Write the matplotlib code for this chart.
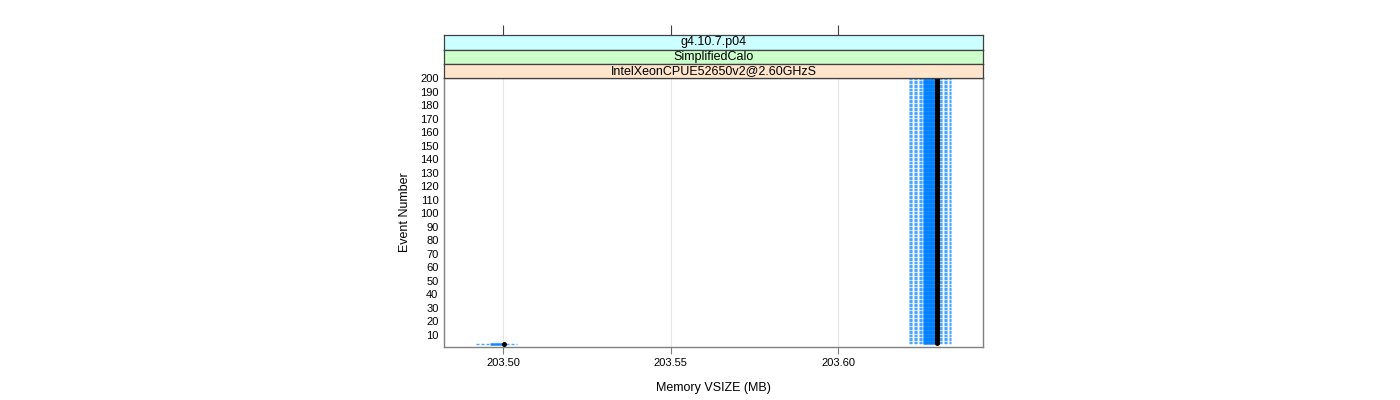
import matplotlib
matplotlib.use("Agg")
import matplotlib.pyplot as plt
import numpy as np

plt.rcParams['font.family'] = ['Liberation Sans', 'DejaVu Sans']

# ---- data ----
strip_labels = ["g4.10.7.p04", "SimplifiedCalo", "IntelXeonCPUE52650v2@2.60GHzS"]
strip_colors = ["#ccffff", "#ccffcc", "#ffe5cc"]

# groups of events sharing the same memory summary
group_first_event = [3, 4]
group_last_event = [3, 200]
group_lo = [203.49194, 203.62119]
group_q1 = [203.49612, 203.62537]
group_med = [203.50021, 203.62940]
group_q3 = [203.50000, 203.62900]
group_hi = [203.50409, 203.63373]

x_ticks = [203.50, 203.55, 203.60]
x_tick_labels = ["203.50", "203.55", "203.60"]
y_ticks = list(range(10, 201, 10))
xlim = (203.48239, 203.64328)
ylim = (1, 200)

W, H = 1400, 400
fig = plt.figure(figsize=(14, 4), dpi=100)

def fx(px):
    return px / W

def fy(py):
    return 1 - py / H

pl, pr, pt, pb = 444, 983, 78, 347
ax = fig.add_axes([fx(pl), fy(pb), fx(pr - pl), fy(pt) - fy(pb)])
ax.set_xlim(*xlim)
ax.set_ylim(*ylim)

for x in x_ticks:
    ax.axvline(x, color="#e6e6e6", lw=0.8, zorder=0)

for i in range(len(group_first_event)):
    ev = np.arange(group_first_event[i], group_last_event[i] + 1)
    n = len(ev)
    ax.hlines(ev, [group_lo[i]] * n, [group_hi[i]] * n, colors="#4da6ff",
              lw=1.0, linestyles=(0, (2.2, 1.4)), zorder=2)
    ax.hlines(ev, [group_q1[i]] * n, [group_q3[i]] * n, colors="#0080ff",
              lw=1.8, alpha=0.9, zorder=3)
    ax.plot([group_med[i]] * n, ev, 'o', color="black", ms=3.6, mew=0, zorder=4)

for s in ax.spines.values():
    s.set_color("#808080")
    s.set_linewidth(1.0)

ax.set_xticks(x_ticks)
ax.set_xticklabels(x_tick_labels, fontsize=8)
ax.set_yticks(y_ticks)
ax.set_yticklabels([str(v) for v in y_ticks], fontsize=8)
ax.tick_params(axis='x', length=5, color="#808080", pad=3)
ax.tick_params(axis='y', length=0, pad=4)
ax.set_xlabel("Memory VSIZE (MB)", fontsize=9, labelpad=10)
ax.set_ylabel("Event Number", fontsize=9, labelpad=6)

# strips (top -> bottom)
strip_edges = [35, 49.5, 64, 78]
for k in range(3):
    top, bot = strip_edges[k], strip_edges[k + 1]
    sax = fig.add_axes([fx(pl), fy(bot), fx(pr - pl), fy(top) - fy(bot)])
    sax.set_xlim(*xlim)
    sax.set_facecolor(strip_colors[k])
    sax.set_yticks([])
    if k == 0:
        sax.xaxis.tick_top()
        sax.set_xticks(x_ticks)
        sax.set_xticklabels([])
        sax.tick_params(axis='x', length=7, color="#404040", direction='out')
    else:
        sax.set_xticks([])
    for s in sax.spines.values():
        s.set_color("#404040")
        s.set_linewidth(0.9)
    sax.text(0.5, 0.5, strip_labels[k], transform=sax.transAxes,
             ha='center', va='center', fontsize=9)

fig.savefig("out.png", dpi=100)
